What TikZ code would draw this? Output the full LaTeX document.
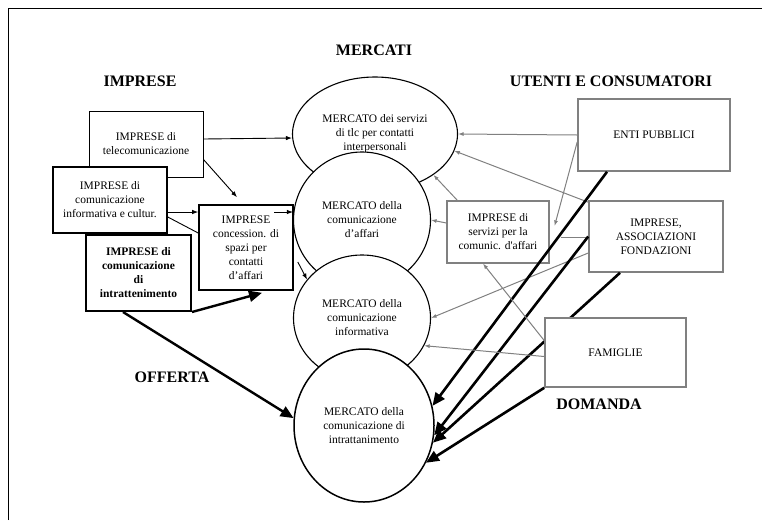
\documentclass[tikz,border=0pt]{standalone}
\usepackage{fontspec}
\setmainfont{Liberation Serif}
\usepackage{tikz}
\usetikzlibrary{shapes.geometric, arrows.meta, positioning, calc}
\definecolor{linkgray}{HTML}{808080}

\begin{document}
\begin{tikzpicture}[x=1pt, y=-1pt,
    box/.style={draw, fill=white, align=center, inner sep=0pt, font=\fontsize{11.5}{14}\selectfont},
    graybox/.style={box, draw=linkgray, line width=1.6pt},
    market/.style={draw, ellipse, fill=white, align=center, inner sep=0pt, line width=1.1pt, font=\fontsize{11.5}{14}\selectfont},
    heading/.style={font=\fontsize{16}{18}\selectfont\bfseries},
    supply/.style={-{Latex[length=6pt,width=4.5pt]}, line width=0.9pt},
    bigsupply/.style={-{Triangle[length=13pt,width=11pt]}, line width=2.4pt},
    flow/.style={draw=linkgray, -{Latex[length=5.5pt,width=4pt]}, line width=1pt},
    demand/.style={-{Triangle[length=13pt,width=11pt]}, line width=2.6pt}]

    \useasboundingbox (0,0) rectangle (762,520);
    \draw[line width=0.8pt] (8.5,520) -- (8.5,8.5) -- (762,8.5);

    \node[heading] (hmerc) at (374,50) {MERCATI};
    \node[heading] (himp) at (140,81.5) {IMPRESE};
    \node[heading] (huten) at (611,81.5) {UTENTI E CONSUMATORI};
    \node[heading] (hoff) at (172,377) {OFFERTA};
    \node[heading] (hdom) at (599,404.5) {DOMANDA};

    \node[market, minimum width=165pt, minimum height=114pt] (tlc) at (375,134) {MERCATO dei servizi\\di tlc per contatti\\interpersonali};
    \node[market, minimum width=137pt, minimum height=136pt] (aff) at (362,220) {MERCATO della\\comunicazione\\d’affari};
    \node[market, minimum width=137pt, minimum height=126pt] (inf) at (362,318) {MERCATO della\\comunicazione\\informativa};
    \node[market, line width=1.5pt, minimum width=140pt, minimum height=153pt] (intr) at (364,425.5) {MERCATO della\\comunicazione di\\intrattanimento};

    \node[box, line width=0.8pt, minimum width=114pt, minimum height=66pt] (tel) at (146,144) {IMPRESE di\\telecomunicazione};
    \node[box, line width=1.6pt, minimum width=114pt, minimum height=66pt] (info) at (110,200) {IMPRESE di\\comunicazione\\informativa e cultur.};
    \node[box, line width=2pt, minimum width=105pt, minimum height=76pt, font=\fontsize{11.5}{14}\selectfont\bfseries] (ent) at (138.5,273) {IMPRESE di\\comunicazione\\di\\intrattenimento};
    \node[box, line width=1.6pt, minimum width=94pt, minimum height=85pt] (conc) at (246,247.5) {IMPRESE\\concession. di\\spazi per\\contatti\\d’affari};

    \node[graybox, minimum width=152pt, minimum height=72pt] (pub) at (654,135) {ENTI PUBBLICI};
    \node[graybox, minimum width=134pt, minimum height=71pt] (fond) at (656,236.5) {IMPRESE,\\ASSOCIAZIONI\\FONDAZIONI};
    \node[graybox, line width=1.1pt, minimum width=102pt, minimum height=62pt] (serv) at (498,232) {IMPRESE di\\servizi per la\\comunic. d\textquotesingle affari};

    \draw[supply] ([yshift=5pt]tel.east) -- ([yshift=-4pt]tlc.west);
    \draw[supply] ([yshift=18pt]tel.south east) -- ([xshift=-9pt,yshift=7pt]conc.north);
    \draw[supply] ([yshift=-12pt]info.east) -- ([yshift=-12pt]info.east -| conc.west);
    \draw[line width=0.9pt] ([yshift=-17pt]info.east) -- ([yshift=14.5pt]conc.west);
    \coordinate (cin) at (274,212);
    \draw[supply] (cin) -- (cin -| aff.west);
    \draw[supply] ([xshift=4pt,yshift=-14.5pt]conc.east) -- (inf.145);
    \draw[bigsupply] ([xshift=-15.5pt]ent.south) -- (intr.174);
    \draw[bigsupply] (ent.south east) -- ([xshift=16pt,yshift=-2pt]conc.south);

    \draw[flow] (pub.west) -- (tlc.east);
    \draw[flow] ([yshift=-2pt]fond.north west) -- (tlc.-12);
    \draw[flow] ([xshift=11pt]serv.north west) -- (tlc.-35);
    \draw[flow] ([yshift=9pt]serv.west) -- (aff.east);
    \draw[flow] ([yshift=-7pt]pub.west) -- ([xshift=5pt,yshift=6pt]serv.east);
    \draw[draw=linkgray, line width=1pt] ([xshift=11pt,yshift=-5pt]serv.east) -- ([yshift=-0.5pt]fond.west);
    \draw[flow] ([yshift=-16.5pt]fond.west) -- (inf.east);

    \draw[demand] ([xshift=-47pt]pub.south) -- (intr.16);
    \draw[demand] (fond.west) -- (intr.-8);
    \draw[demand] ([xshift=-36pt]fond.south) -- (intr.-14);

    \node[graybox, minimum width=141pt, minimum height=69pt] (fam) at (615.5,352.5) {FAMIGLIE};

    \draw[flow] ([yshift=12pt]fam.west) -- ([xshift=-15pt]serv.south);
    \draw[flow] ([yshift=-4pt]fam.west) -- (inf.-24);
    \draw[demand] (fam.south west) -- (intr.-31);
\end{tikzpicture}
\end{document}
